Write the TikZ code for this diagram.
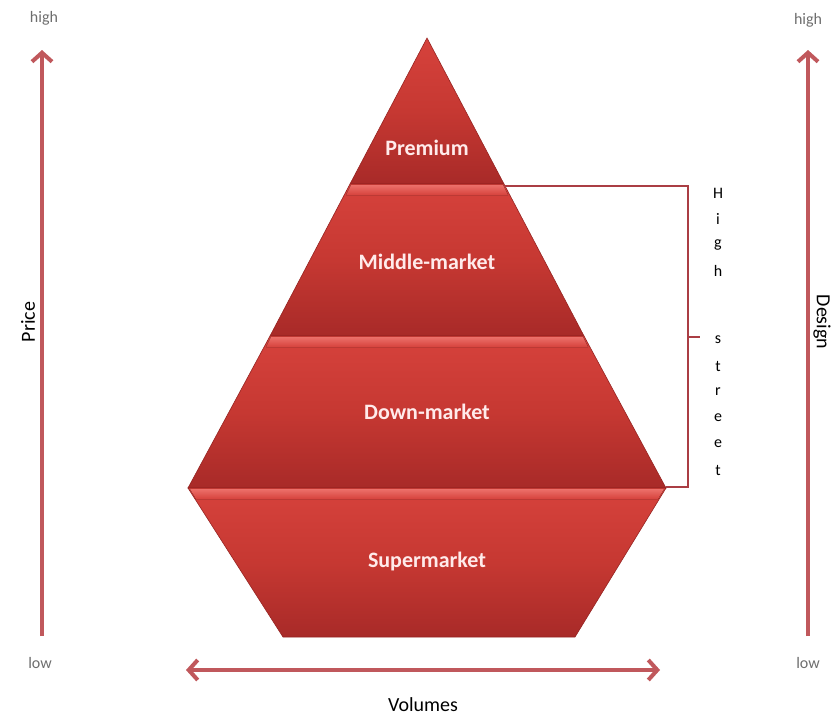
\documentclass[tikz,border=0pt]{standalone}
\usepackage{fontspec}
\setmainfont{Carlito}
\usetikzlibrary{arrows.meta}
\definecolor{tierlight}{RGB}{214,66,60}
\definecolor{tiermid}{RGB}{198,56,50}
\definecolor{tierdark}{RGB}{168,42,40}
\definecolor{tieredge}{RGB}{150,36,34}
\definecolor{bevelcol}{RGB}{236,112,106}
\definecolor{axiscol}{RGB}{192,88,92}
\definecolor{brackcol}{RGB}{170,62,68}
\definecolor{lowhigh}{RGB}{110,110,110}
\tikzset{
  tier/.style={draw=tieredge,line width=0.6pt,top color=tierlight,bottom color=tierdark,middle color=tiermid},
  bevelband/.style={top color=bevelcol,bottom color=tierlight},
  tierlabel/.style={text=white!92!red,font=\fontsize{22}{22}\selectfont\bfseries},
  axis/.style={draw=axiscol,line width=4pt,-{Straight Barb[length=9pt,width=20pt]}},
  twoway/.style={draw=axiscol,line width=4pt,{Straight Barb[length=9pt,width=20pt]}-{Straight Barb[length=9pt,width=20pt]}},
  bracket/.style={draw=brackcol,line width=2pt},
  endlabel/.style={text=lowhigh,font=\fontsize{16}{16}\selectfont},
  axislabel/.style={font=\fontsize{20}{20}\selectfont},
  hsletter/.style={font=\fontsize{16}{16}\selectfont}
}
\begin{document}
\begin{tikzpicture}[x=1pt,y=-1pt]
  \useasboundingbox (0,0) rectangle (838,720);
  % pyramid tiers
  \path[tier] (427,38) -- (504,184) -- (350,184) -- cycle;
  \path[tier] (350,184) -- (504,184) -- (584,336) -- (270,336) -- cycle;
  \path[tier] (270,336) -- (584,336) -- (666,488) -- (188,488) -- cycle;
  \path[tier] (188,488) -- (666,488) -- (575,637) -- (283,637) -- cycle;
  \fill[bevelband] (351,185) -- (503,185) -- (508,195) -- (346,195) -- cycle;
  \fill[bevelband] (271,337) -- (583,337) -- (588,347) -- (266,347) -- cycle;
  \fill[bevelband] (190,489) -- (664,489) -- (658,499) -- (196,499) -- cycle;
  \node[tierlabel] (premium) at (427,148) {Premium};
  \node[tierlabel] (middle) at (427,262) {Middle-market};
  \node[tierlabel] (down) at (427,412) {Down-market};
  \node[tierlabel] (super) at (427,562) {Supermarket};
  % high street bracket
  \coordinate (btop) at (505,186);
  \coordinate (bbot) at (666,487);
  \coordinate (brk) at (688,337);
  \coordinate (tick) at (700,337);
  \draw[bracket] (btop) -| (brk) |- (bbot);
  \draw[bracket] (brk) -- (tick);
  \foreach \l/\y in {H/193,i/219,g/245,h/271,s/340,t/366,r/392,e/418,e/444,t/470}
    \node[hsletter] (hs\y) at (718,\y) {\l};
  % price axis
  \coordinate (plow) at (42,636);
  \coordinate (phigh) at (42,50);
  \draw[axis] (plow) -- (phigh);
  \node[endlabel] (phightxt) at (44,18) {high};
  \node[endlabel] (plowtxt) at (40,663) {low};
  \node[axislabel,rotate=90] (price) at (28,322) {Price};
  % design axis
  \coordinate (dlow) at (808,636);
  \coordinate (dhigh) at (808,50);
  \draw[axis] (dlow) -- (dhigh);
  \node[endlabel] (dhightxt) at (808,20) {high};
  \node[endlabel] (dlowtxt) at (808,663) {low};
  \node[axislabel,rotate=-90] (design) at (822,322) {Design};
  % volumes axis
  \coordinate (vleft) at (186,670);
  \coordinate (vright) at (660,670);
  \draw[twoway] (vleft) -- (vright);
  \node[axislabel] (volumes) at (423,705) {Volumes};
\end{tikzpicture}
\end{document}
